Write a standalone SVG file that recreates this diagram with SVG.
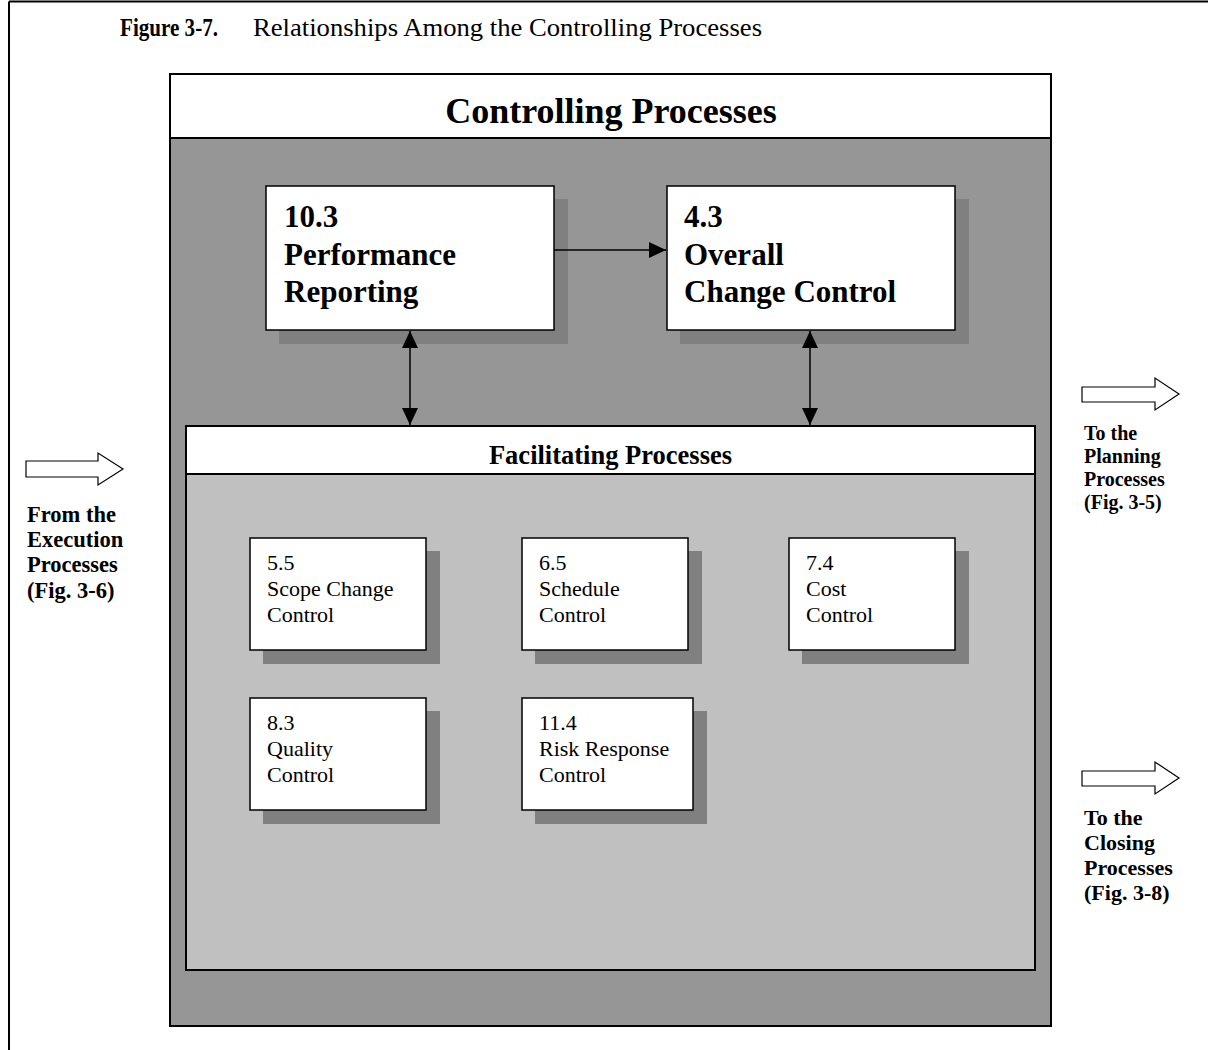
<svg xmlns="http://www.w3.org/2000/svg" width="1208" height="1050" viewBox="0 0 1208 1050">
  <style>
    text { font-family: "Liberation Serif", "Times New Roman", serif; fill: #000; }
    .b { font-weight: bold; }
    .frame { fill: none; stroke: #000; stroke-width: 2; }
    .box { fill: #fff; stroke: #000; stroke-width: 1.5; }
    .shadow { fill: #808080; }
    .conn { stroke: #000; stroke-width: 1.5; fill: none; }
    .block { fill: #fff; stroke: #000; stroke-width: 1.2; }
    .big { font-size: 31px; font-weight: bold; }
    .small { font-size: 22px; }
  </style>
  <defs>
    <marker id="ah" viewBox="0 0 17 16" refX="17" refY="8" markerWidth="17" markerHeight="16" markerUnits="userSpaceOnUse" orient="auto-start-reverse">
      <path d="M0,0 L17,8 L0,16 Z" fill="#000"/>
    </marker>
  </defs>

  <rect width="1208" height="1050" fill="#fff"/>

  <!-- page frame: top and left rules -->
  <path d="M9,1.5 H1208 M9,1.5 V1050" class="frame"/>

  <!-- figure caption -->
  <text x="120" y="36" style="font-size:25px" class="b" textLength="98" lengthAdjust="spacingAndGlyphs">Figure 3-7.</text>
  <text x="253" y="36" style="font-size:26px" textLength="509" lengthAdjust="spacingAndGlyphs">Relationships Among the Controlling Processes</text>

  <!-- controlling processes container -->
  <g id="controlling">
    <rect x="170" y="74" width="881" height="952" fill="#969696" stroke="#000" stroke-width="2"/>
    <rect x="170" y="74" width="881" height="64" fill="#fff" stroke="#000" stroke-width="2"/>
    <text x="611" y="123" text-anchor="middle" class="b" style="font-size:36px">Controlling Processes</text>
  </g>

  <!-- facilitating processes container -->
  <g id="facilitating">
    <rect x="186" y="426" width="849" height="544" fill="#c0c0c0" stroke="#000" stroke-width="2"/>
    <rect x="186" y="426" width="849" height="48" fill="#fff" stroke="#000" stroke-width="2"/>
    <text x="610.5" y="464" text-anchor="middle" class="b" style="font-size:26.5px">Facilitating Processes</text>
  </g>

  <!-- core controlling processes -->
  <g id="n10-3">
    <rect x="279" y="199" width="289" height="145" class="shadow"/>
    <rect x="266" y="186" width="288" height="144" class="box"/>
    <text class="big"><tspan x="284" y="227">10.3</tspan><tspan x="284" y="265">Performance</tspan><tspan x="284" y="302">Reporting</tspan></text>
  </g>
  <g id="n4-3">
    <rect x="680" y="199" width="289" height="145" class="shadow"/>
    <rect x="667" y="186" width="288" height="144" class="box"/>
    <text class="big"><tspan x="684" y="227">4.3</tspan><tspan x="684" y="265">Overall</tspan><tspan x="684" y="302">Change Control</tspan></text>
  </g>

  <!-- facilitating processes -->
  <g id="n5-5">
    <rect x="263" y="551" width="177" height="113" class="shadow"/>
    <rect x="250" y="538" width="176" height="112" class="box"/>
    <text class="small"><tspan x="267" y="570">5.5</tspan><tspan x="267" y="596">Scope Change</tspan><tspan x="267" y="622">Control</tspan></text>
  </g>
  <g id="n6-5">
    <rect x="535" y="551" width="167" height="113" class="shadow"/>
    <rect x="522" y="538" width="166" height="112" class="box"/>
    <text class="small"><tspan x="539" y="570">6.5</tspan><tspan x="539" y="596">Schedule</tspan><tspan x="539" y="622">Control</tspan></text>
  </g>
  <g id="n7-4">
    <rect x="802" y="551" width="167" height="113" class="shadow"/>
    <rect x="789" y="538" width="166" height="112" class="box"/>
    <text class="small"><tspan x="806" y="570">7.4</tspan><tspan x="806" y="596">Cost</tspan><tspan x="806" y="622">Control</tspan></text>
  </g>
  <g id="n8-3">
    <rect x="263" y="711" width="177" height="113" class="shadow"/>
    <rect x="250" y="698" width="176" height="112" class="box"/>
    <text class="small"><tspan x="267" y="730">8.3</tspan><tspan x="267" y="756">Quality</tspan><tspan x="267" y="782">Control</tspan></text>
  </g>
  <g id="n11-4">
    <rect x="535" y="711" width="172" height="113" class="shadow"/>
    <rect x="522" y="698" width="171" height="112" class="box"/>
    <text class="small"><tspan x="539" y="730">11.4</tspan><tspan x="539" y="756">Risk Response</tspan><tspan x="539" y="782">Control</tspan></text>
  </g>

  <!-- connectors -->
  <g id="connectors">
    <line x1="554" y1="250" x2="666" y2="250" class="conn" marker-end="url(#ah)"/>
    <line x1="410" y1="331" x2="410" y2="425" class="conn" marker-start="url(#ah)" marker-end="url(#ah)"/>
    <line x1="810" y1="331" x2="810" y2="425" class="conn" marker-start="url(#ah)" marker-end="url(#ah)"/>
  </g>

  <!-- links to other process groups -->
  <g id="from-execution">
    <path d="M26,461 H98 V453 L123,469 L98,485 V477 H26 Z" class="block"/>
    <text class="b" style="font-size:22.5px"><tspan x="27" y="522">From the</tspan><tspan x="27" y="547">Execution</tspan><tspan x="27" y="572">Processes</tspan><tspan x="27" y="598">(Fig. 3-6)</tspan></text>
  </g>
  <g id="to-planning">
    <path d="M1082,387 H1155 V378 L1179,394 L1155,410 V402 H1082 Z" class="block"/>
    <text class="b" style="font-size:20px"><tspan x="1084" y="440">To the</tspan><tspan x="1084" y="463">Planning</tspan><tspan x="1084" y="486">Processes</tspan><tspan x="1084" y="509">(Fig. 3-5)</tspan></text>
  </g>
  <g id="to-closing">
    <path d="M1082,771 H1155 V762 L1179,778 L1155,794 V786 H1082 Z" class="block"/>
    <text class="b" style="font-size:22px"><tspan x="1084" y="825">To the</tspan><tspan x="1084" y="850">Closing</tspan><tspan x="1084" y="875">Processes</tspan><tspan x="1084" y="900">(Fig. 3-8)</tspan></text>
  </g>
</svg>
